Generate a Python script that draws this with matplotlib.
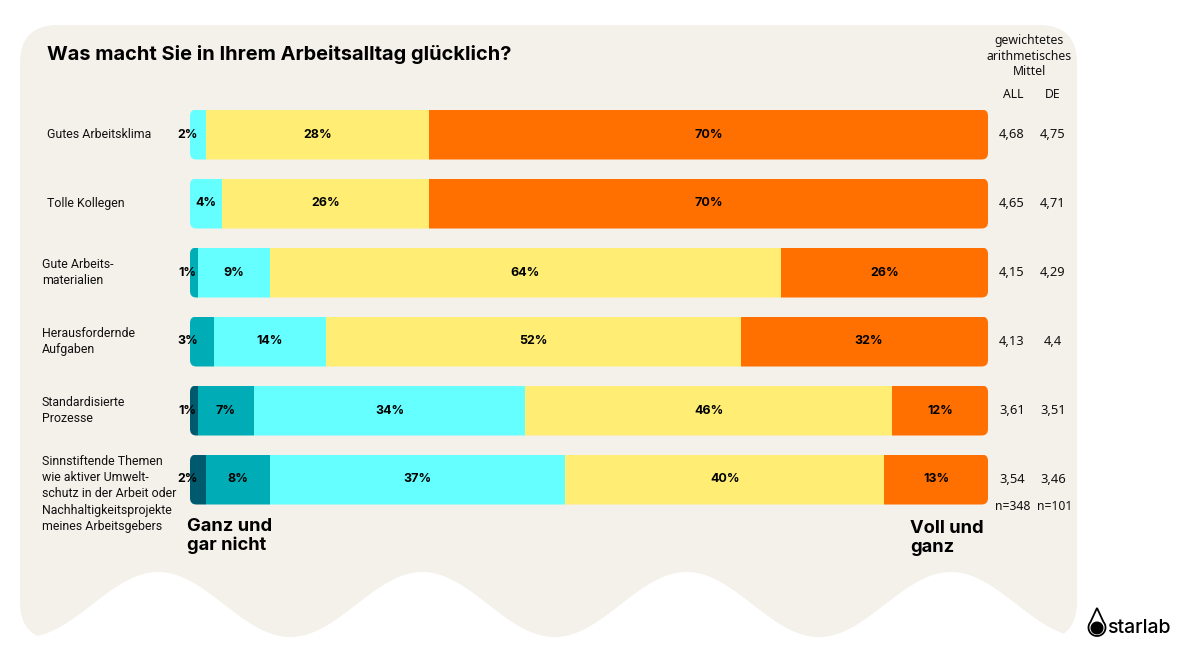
import numpy as np
import matplotlib
matplotlib.use("Agg")
import matplotlib.pyplot as plt
from matplotlib.patches import FancyBboxPatch, Polygon, Circle
from matplotlib.transforms import blended_transform_factory

# Data
categories = [
    "Gutes Arbeitsklima",
    "Tolle Kollegen",
    "Gute Arbeits-\nmaterialien",
    "Herausfordernde\nAufgaben",
    "Standardisierte\nProzesse",
    "Sinnstiftende Themen\nwie aktiver Umwelt-\nschutz in der Arbeit oder\nNachhaltigkeitsprojekte\nmeines Arbeitsgebers",
]
gar_nicht = [0, 0, 0, 0, 1, 2]
eher_nicht = [0, 0, 1, 3, 7, 8]
teils = [2, 4, 9, 14, 34, 37]
eher_ja = [28, 26, 64, 52, 46, 40]
voll = [70, 70, 26, 32, 12, 13]
mean_all = [4.68, 4.65, 4.15, 4.13, 3.61, 3.54]
mean_de = [4.75, 4.71, 4.29, 4.4, 3.51, 3.46]
n_all = 348
n_de = 101

series = [gar_nicht, eher_nicht, teils, eher_ja, voll]
colors = ["#005a6e", "#00adb6", "#66ffff", "#ffee73", "#ff7000"]

W, H = 1191, 670
fig = plt.figure(figsize=(W / 100, H / 100), dpi=100)
fig.patch.set_facecolor("white")

# background panel (pixel coordinates)
bg = fig.add_axes([0, 0, 1, 1], zorder=-1)
bg.set_xlim(0, W)
bg.set_ylim(H, 0)
bg.axis("off")
xs = np.linspace(1077, 20, 400)
ys = 604.5 + 32.5 * np.cos(2 * np.pi * (xs - 26) / 264.25)
verts = [(20, 25), (1077, 25)] + list(zip(xs, ys))
panel = Polygon(verts, closed=True, facecolor="#f4f0ea", edgecolor="none")
bg.add_patch(panel)
clip = FancyBboxPatch((20, 25), 1057, 615, boxstyle="round,pad=0,rounding_size=38",
                      transform=bg.transData, facecolor="none", edgecolor="none")
bg.add_patch(clip)
panel.set_clip_path(clip)

# logo: drop outline with a dot
t = np.linspace(np.radians(-40), np.radians(220), 100)
drop_pts = [(1097, 608)] + [(1097 + 8.5 * np.cos(a), 627.5 + 8.5 * np.sin(a)) for a in t]
bg.add_patch(Polygon(drop_pts, closed=True, facecolor="none", edgecolor="black", lw=1.3))
bg.add_patch(Circle((1097, 628), 5.8, color="black"))
bg.text(1107, 628, "starlab", fontsize=14, family="Inter", fontweight="medium",
        va="center", ha="left", color="black")

# title
fig.text(47 / W, 1 - 54 / H, "Was macht Sie in Ihrem Arbeitsalltag glücklich?",
         fontsize=14.4, family="Inter", fontweight="bold", va="center", ha="left")

# bars
ax = fig.add_axes([190 / W, 1 - 514 / H, 798 / W, 414 / H])
ax.set_xlim(0, 100)
ax.set_ylim(5.5, -0.5)
ax.axis("off")
ax.patch.set_alpha(0)

y = np.arange(len(categories))
bar_h = 50 / 69
aspect = (798 / 100) / 69

left = np.zeros(len(categories))
containers = []
for vals, c in zip(series, colors):
    containers.append(ax.barh(y, vals, left=left, height=bar_h, color=c, edgecolor="none"))
    left = left + np.array(vals)

for i in y:
    box = FancyBboxPatch((0, i - bar_h / 2), 100, bar_h,
                         boxstyle="round,pad=0,rounding_size=0.8", mutation_aspect=aspect,
                         transform=ax.transData, facecolor="none", edgecolor="none")
    ax.add_patch(box)
    for cont in containers:
        cont[i].set_clip_path(box)

# segment labels
for i in y:
    start = 0
    for vals in series:
        v = vals[i]
        if v > 0:
            xpos = -0.3 if v <= 3 else start + v / 2
            ax.text(xpos, i, f"{v}%", ha="center", va="center", fontsize=9,
                    family="Inter", fontweight="bold", color="black")
        start += v

# category labels
lab_tr = blended_transform_factory(fig.transFigure, ax.transData)
for i, cat in enumerate(categories):
    yy = i + (0.21 if i == len(categories) - 1 else 0)
    xx = 47 if "\n" not in cat else 42
    ax.text(xx / W, yy, cat, transform=lab_tr, ha="left", va="center", fontsize=8.9,
            family="Roboto", color="#111111", linespacing=1.33)

# right columns
txt = dict(ha="center", va="center", family="Noto Sans", color="#111111")
fig.text(1029 / W, 1 - 56 / H, "gewichtetes\narithmetisches\nMittel", fontsize=8.8,
         linespacing=1.25, **txt)
fig.text(1013 / W, 1 - 95 / H, "ALL", fontsize=8.8, **txt)
fig.text(1053 / W, 1 - 95 / H, "DE", fontsize=8.8, **txt)
for i in y:
    ax.text(1012 / W, i, f"{mean_all[i]:g}".replace(".", ","), transform=lab_tr,
            fontsize=9.3, **txt)
    ax.text(1053 / W, i, f"{mean_de[i]:g}".replace(".", ","), transform=lab_tr,
            fontsize=9.3, **txt)
fig.text(1013 / W, 1 - 506 / H, f"n={n_all}", fontsize=8.8, **txt)
fig.text(1055 / W, 1 - 506 / H, f"n={n_de}", fontsize=8.8, **txt)

# scale ends
fig.text(187 / W, 1 - 536 / H, "Ganz und\ngar nicht", ha="left", va="center",
         fontsize=13.2, family="Inter", fontweight="bold", linespacing=1.15)
fig.text(910 / W, 1 - 538 / H, "Voll und\nganz", ha="left", va="center",
         fontsize=13.2, family="Inter", fontweight="bold", linespacing=1.15)

fig.savefig("out.png", dpi=100)
